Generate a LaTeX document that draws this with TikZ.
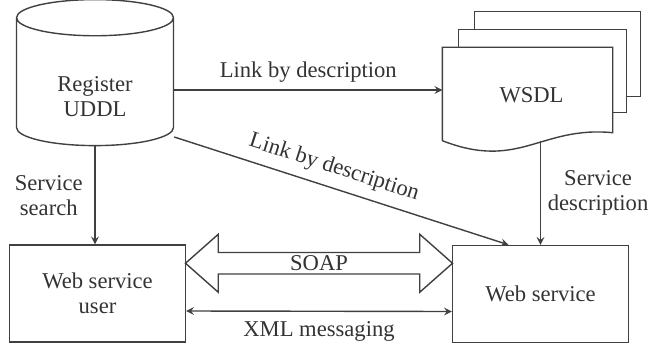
\documentclass[tikz,border=0pt]{standalone}
\usepackage{fontspec}
\setmainfont{Liberation Serif}
\usepackage{tikz}
\usetikzlibrary{calc}
\usetikzlibrary{positioning}
\usetikzlibrary{arrows}
\usetikzlibrary{shapes.geometric, shapes.arrows}

\begin{document}
\begin{tikzpicture}[x=0.5pt, y=-0.5pt, ->, >=stealth, draw=black!75, line width=0.7pt, text=black!80, font=\fontsize{11.3}{12.5}\selectfont]
    \tikzstyle{db}=[draw, cylinder, shape border rotate=90, aspect=0.48, minimum width=78.5pt, minimum height=73pt, inner sep=0pt]
    \tikzstyle{block}=[draw, rectangle, minimum width=88pt, minimum height=48.5pt, inner sep=0pt, align=center]
    \tikzstyle{doc}=[rectangle, minimum width=84.5pt, minimum height=46pt, inner sep=0pt]
    \tikzstyle{page}=[-, draw, fill=white]
    \tikzstyle{pipe}=[draw, double arrow, double arrow head extend=7pt, double arrow tip angle=83, double arrow head indent=0pt, minimum width=29pt, minimum height=133.5pt, inner sep=0pt]

    \useasboundingbox (0,0) rectangle (651,347);

    \node[db] (uddl) at (95,82) {\raisebox{-8.75pt}[\height][\depth]{\begin{tabular}{@{}c@{}}Register\\UDDL\end{tabular}}};
    \node[block] (user) at (97.5,293.5) {Web service\\user};
    \node[block] (ws) at (540.5,294) {Web service};
    \node[doc] (wsdl) at (527.5,94) {};
    \coordinate (wsdlin) at ([yshift=2pt]wsdl.west);

    % stacked pages behind the WSDL document
    \draw[page] ($(wsdl.north west)+(32,-36)$) rectangle ++(166,85);
    \draw[page] ($(wsdl.north west)+(16,-18)$) rectangle ++(168,83);
    \draw[page] (wsdl.south west) -- (wsdl.north west) -- (wsdl.north east) -- ($(wsdl.south east)+(0,-8)$)
        .. controls ($(wsdl.south east)+(-72,-15)$) and ($(wsdl.south west)+(77,30)$) .. (wsdl.south west);
    \node at ($(wsdl.center)+(4,1)$) {WSDL};

    \node[pipe] (soap) at ($(user.east)!0.5!(ws.west)+(0,-30.5)$) {SOAP};

    \path (uddl.east |- wsdlin) edge node[above] {Link by description} (wsdlin);
    \path ($(uddl.east)+(0,55)$) edge node[above=1pt, sloped, pos=0.46] {Link by description} ($(ws.north)+(-32,0)$);
    \path (uddl.south) edge node[left=2.5pt, align=center] {Service\\search} (uddl.south |- user.north);
    \path (ws.north |- wsdl.south) edge node[right, align=center] {Service\\description} (ws.north);
    \path ([yshift=-8.75pt]user.east) edge[<->] node[below=1.7pt] {XML messaging} ([yshift=-8.75pt]ws.west);
\end{tikzpicture}
\end{document}
